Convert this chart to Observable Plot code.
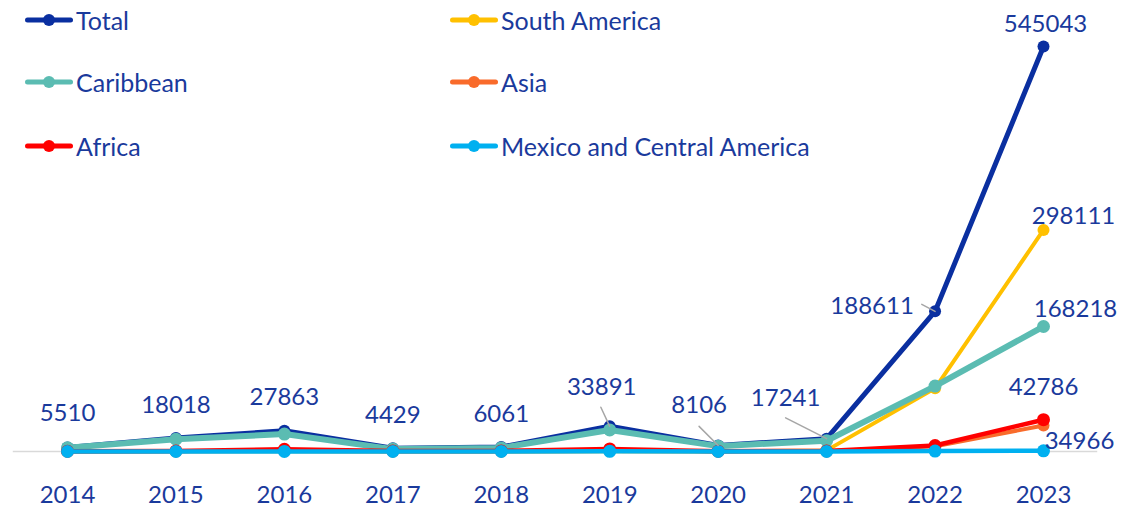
<!DOCTYPE html>
<html>
<head>
<meta charset="utf-8">
<script src="https://cdn.jsdelivr.net/npm/d3@7"></script>
<script src="https://cdn.jsdelivr.net/npm/@observablehq/plot@0.6"></script>
<style>
  body { margin: 0; background: #fff; }
  #wrap { position: relative; width: 1136px; height: 508px; overflow: hidden; }
  #legend { position: absolute; left: 0; top: 0; width: 1136px; height: 170px; pointer-events: none; }
  .item { position: absolute; display: flex; align-items: center; height: 30px; font-family: Lato, "Open Sans", sans-serif; font-size: 25px; color: #1a3a9c; white-space: nowrap; }
  .item svg { display: block; margin-right: 3px; }
</style>
</head>
<body>
<div id="wrap"><div id="chart"></div><div id="legend"></div></div>
<script>
// ---- data ----
const years = [2014, 2015, 2016, 2017, 2018, 2019, 2020, 2021, 2022, 2023];
const total = [5510, 18018, 27863, 4429, 6061, 33891, 8106, 17241, 188611, 545043];
const southAmerica = [80, 250, 400, 130, 150, 400, 150, 1500, 85000, 298111];
const caribbean = [5000, 16500, 23500, 3200, 4800, 29000, 7200, 14500, 88000, 168218];
const asia = [100, 400, 800, 250, 250, 800, 200, 400, 7000, 34966];
const africa = [300, 800, 3000, 800, 800, 3500, 500, 700, 8000, 42786];
const mexicoCentralAmerica = [30, 68, 163, 49, 61, 191, 56, 141, 600, 962];

const seriesNames = ["Total", "South America", "Caribbean", "Asia", "Africa", "Mexico and Central America"];
const seriesValues = [total, southAmerica, caribbean, asia, africa, mexicoCentralAmerica];
const seriesColors = ["#0a2fa0", "#ffc000", "#5bbcb2", "#f96b2b", "#ff0000", "#00b0f0"];

// ---- styling / layout config ----
const lineWidths = [5, 4, 6, 4, 4.5, 4.5];
const dotRadius = [6, 6, 6.5, 6, 6.5, 6.5];
const textColor = "#1a3a9c";
const totalLabelDx = [0, 0, 0, 0, 0, -8, -19, -41, -63, 2];
const totalLabelDy = [-34, -33, -33, -33, -33, -39, -40, -40, -5, -22];
// leaders: [yearIndex, length(px), angle(deg)]
const leaders = [[5, 21, -25], [6, 27, -45], [7, 46, -63], [8, 15, -62]];
// 2023 labels for series (index into series) with nudges
const endLabels = [[1, 30, -14], [2, 32, -17], [4, 0, -32], [3, 36, 16]];

const long = seriesNames.flatMap((s, i) => years.map((y, j) => ({series: s, year: y, value: seriesValues[i][j]})));

const marks = [
  Plot.ruleY([0], {x1: 2013.5, x2: 2023.5, stroke: "#d9d9d9", strokeWidth: 1.5}),
];
seriesNames.forEach((s, i) => {
  const d = long.filter(r => r.series === s);
  marks.push(Plot.line(d, {x: "year", y: "value", stroke: seriesColors[i], strokeWidth: lineWidths[i], strokeLinejoin: "round", strokeLinecap: "round"}));
  marks.push(Plot.dot(d, {x: "year", y: "value", fill: seriesColors[i], r: dotRadius[i]}));
});

const leaderShape = {draw(context, l) { context.moveTo(0, 0); context.lineTo(0, -l); }};
marks.push(Plot.vector(leaders.map(([j, len, ang]) => ({year: years[j], value: total[j], len, ang})), {
  x: "year", y: "value", length: "len", rotate: "ang", anchor: "start", shape: leaderShape,
  stroke: "#a6a6a6", strokeWidth: 1.5
}));

years.forEach((y, j) => {
  marks.push(Plot.text([{year: y, value: total[j]}], {
    x: "year", y: "value", text: d => String(d.value), dx: totalLabelDx[j], dy: totalLabelDy[j],
    fill: textColor, fontSize: 24, fontFamily: "Lato, 'Open Sans', sans-serif"
  }));
});
endLabels.forEach(([si, dx, dy]) => {
  const last = years.length - 1;
  marks.push(Plot.text([{year: years[last], value: seriesValues[si][last]}], {
    x: "year", y: "value", text: d => String(d.value), dx, dy,
    fill: textColor, fontSize: 24, fontFamily: "Lato, 'Open Sans', sans-serif"
  }));
});

marks.push(Plot.axisX({ticks: years, tickFormat: d3.format("d"), tickSize: 0, tickPadding: 34, fontSize: 24, fill: textColor, label: null}));

const chart = Plot.plot({
  width: 1136,
  height: 508,
  marginLeft: 67,
  marginRight: 93,
  marginTop: 46,
  marginBottom: 57,
  style: {fontFamily: "Lato, 'Open Sans', sans-serif", fontSize: "24px", color: textColor, background: "#fff"},
  x: {type: "linear", domain: [2014, 2023], axis: null, label: null},
  y: {domain: [0, 545043], axis: null},
  length: {type: "identity"},
  marks
});
document.getElementById("chart").appendChild(chart);

// ---- legend ----
const legendPos = [[25, 20], [450, 20], [25, 82], [450, 82], [25, 146], [450, 146]];
const legendOrder = ["Total", "South America", "Caribbean", "Asia", "Africa", "Mexico and Central America"];
const legend = document.getElementById("legend");
legendOrder.forEach((name, k) => {
  const i = seriesNames.indexOf(name);
  const [lx, ly] = legendPos[k];
  const div = document.createElement("div");
  div.className = "item";
  div.style.left = lx + "px";
  div.style.top = (ly - 15) + "px";
  div.innerHTML = `<svg width="48" height="14"><line x1="2.5" y1="7" x2="45.5" y2="7" stroke="${seriesColors[i]}" stroke-width="5" stroke-linecap="round"/><circle cx="24" cy="7" r="6" fill="${seriesColors[i]}"/></svg><span>${name}</span>`;
  legend.appendChild(div);
});
</script>
</body>
</html>
